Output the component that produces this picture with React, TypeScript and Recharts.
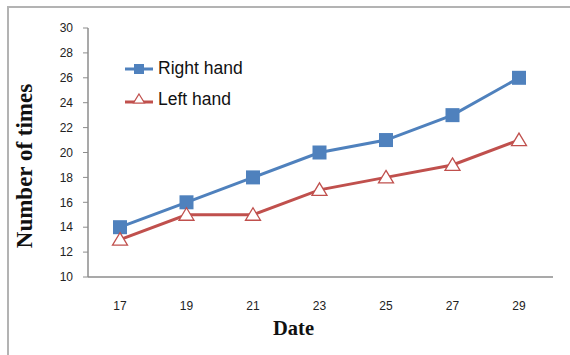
import React from 'react';
import { LineChart, Line, XAxis, YAxis, Legend } from 'recharts';

// Dates on which the counts were recorded
const dates = ['17', '19', '21', '23', '25', '27', '29'];
// Counts per hand
const rightHand = [14, 16, 18, 20, 21, 23, 26];
const leftHand = [13, 15, 15, 17, 18, 19, 21];
// Value axis ticks
const yTicks = [10, 12, 14, 16, 18, 20, 22, 24, 26, 28, 30];

const data = dates.map((d, i) => ({ date: d, right: rightHand[i], left: leftHand[i] }));

const BLUE = '#4F81BD';
const RED = '#C0504D';
const AXIS = '#8c8c8c';

const SquareDot = (props: any) => {
  const { cx, cy, index } = props;
  if (cx == null || cy == null) return null;
  return <rect key={`sq-${index}`} x={cx - 7} y={cy - 7} width={14} height={14} fill={BLUE} />;
};

const TriangleDot = (props: any) => {
  const { cx, cy, index } = props;
  if (cx == null || cy == null) return null;
  const pts = `${cx},${cy - 7} ${cx + 7.5},${cy + 5.5} ${cx - 7.5},${cy + 5.5}`;
  return <polygon key={`tr-${index}`} points={pts} fill="#fff" stroke={RED} strokeWidth={1.3} />;
};

const LegendContent = () => (
  <div style={{ fontFamily: '"Liberation Sans", Arial, sans-serif', fontSize: 17.5, color: '#111' }}>
    <div style={{ display: 'flex', alignItems: 'center', height: 31 }}>
      <svg width={33} height={20}>
        <line x1={0} y1={10} x2={28} y2={10} stroke={BLUE} strokeWidth={3} />
        <rect x={9} y={5} width={10} height={10} fill={BLUE} />
      </svg>
      <span>Right hand</span>
    </div>
    <div style={{ display: 'flex', alignItems: 'center', height: 31 }}>
      <svg width={33} height={20}>
        <line x1={0} y1={12} x2={28} y2={12} stroke={RED} strokeWidth={3} />
        <polygon points="14,4 19.5,13 8.5,13" fill="#fff" stroke={RED} strokeWidth={1.2} />
      </svg>
      <span>Left hand</span>
    </div>
  </div>
);

export default function App() {
  return (
    <div style={{ position: 'absolute', left: 0, top: 0, width: 570, height: 355, overflow: 'hidden', background: '#fff' }}>
      <div
        style={{
          position: 'absolute',
          left: 7,
          top: 6,
          width: 620,
          height: 420,
          borderTop: '2px solid #b3b3b3',
          borderLeft: '2px solid #b3b3b3',
        }}
      />
      <LineChart
        width={570}
        height={355}
        data={data}
        margin={{ top: 28, right: 17, left: 0, bottom: 0 }}
        style={{ position: 'absolute', left: 0, top: 0 }}
      >
        <XAxis
          dataKey="date"
          height={78}
          padding={{ left: 32, right: 34 }}
          axisLine={{ stroke: AXIS, strokeWidth: 1.5 }}
          tickLine={false}
          tickSize={0}
          tickMargin={24}
          tick={{ fill: '#222', fontSize: 12, fontFamily: '"Liberation Sans", Arial, sans-serif' }}
          label={{
            content: (p: any) => {
              const vb = p.viewBox || {};
              return (
                <text
                  x={vb.x + vb.width / 2 - 27}
                  y={335}
                  textAnchor="middle"
                  fontFamily='"Liberation Serif", "Times New Roman", serif'
                  fontWeight="bold"
                  fontSize={22}
                  fill="#111"
                  textLength={41}
                  lengthAdjust="spacingAndGlyphs"
                >
                  Date
                </text>
              );
            },
          }}
        />
        <YAxis
          width={88}
          domain={[10, 30]}
          ticks={yTicks}
          interval={0}
          axisLine={{ stroke: AXIS, strokeWidth: 1.5 }}
          tickLine={{ stroke: AXIS }}
          tickSize={5}
          tickMargin={10}
          tick={{ fill: '#222', fontSize: 12, fontFamily: '"Liberation Sans", Arial, sans-serif' }}
          label={{
            content: () => (
              <text
                x={32}
                y={166}
                transform="rotate(-90, 32, 166)"
                textAnchor="middle"
                fontFamily='"Liberation Serif", "Times New Roman", serif'
                fontWeight="bold"
                fontSize={23}
                fill="#111"
              >
                Number of times
              </text>
            ),
          }}
        />
        <Legend
          layout="horizontal"
          verticalAlign="middle"
          align="center"
          content={<LegendContent />}
          wrapperStyle={{ position: 'absolute', left: 125, top: 53, width: 160, height: 62 }}
        />
        <Line
          type="linear"
          dataKey="right"
          name="Right hand"
          stroke={BLUE}
          strokeWidth={3}
          dot={<SquareDot />}
          activeDot={false}
          isAnimationActive={false}
        />
        <Line
          type="linear"
          dataKey="left"
          name="Left hand"
          stroke={RED}
          strokeWidth={3}
          dot={<TriangleDot />}
          activeDot={false}
          isAnimationActive={false}
        />
      </LineChart>
    </div>
  );
}
